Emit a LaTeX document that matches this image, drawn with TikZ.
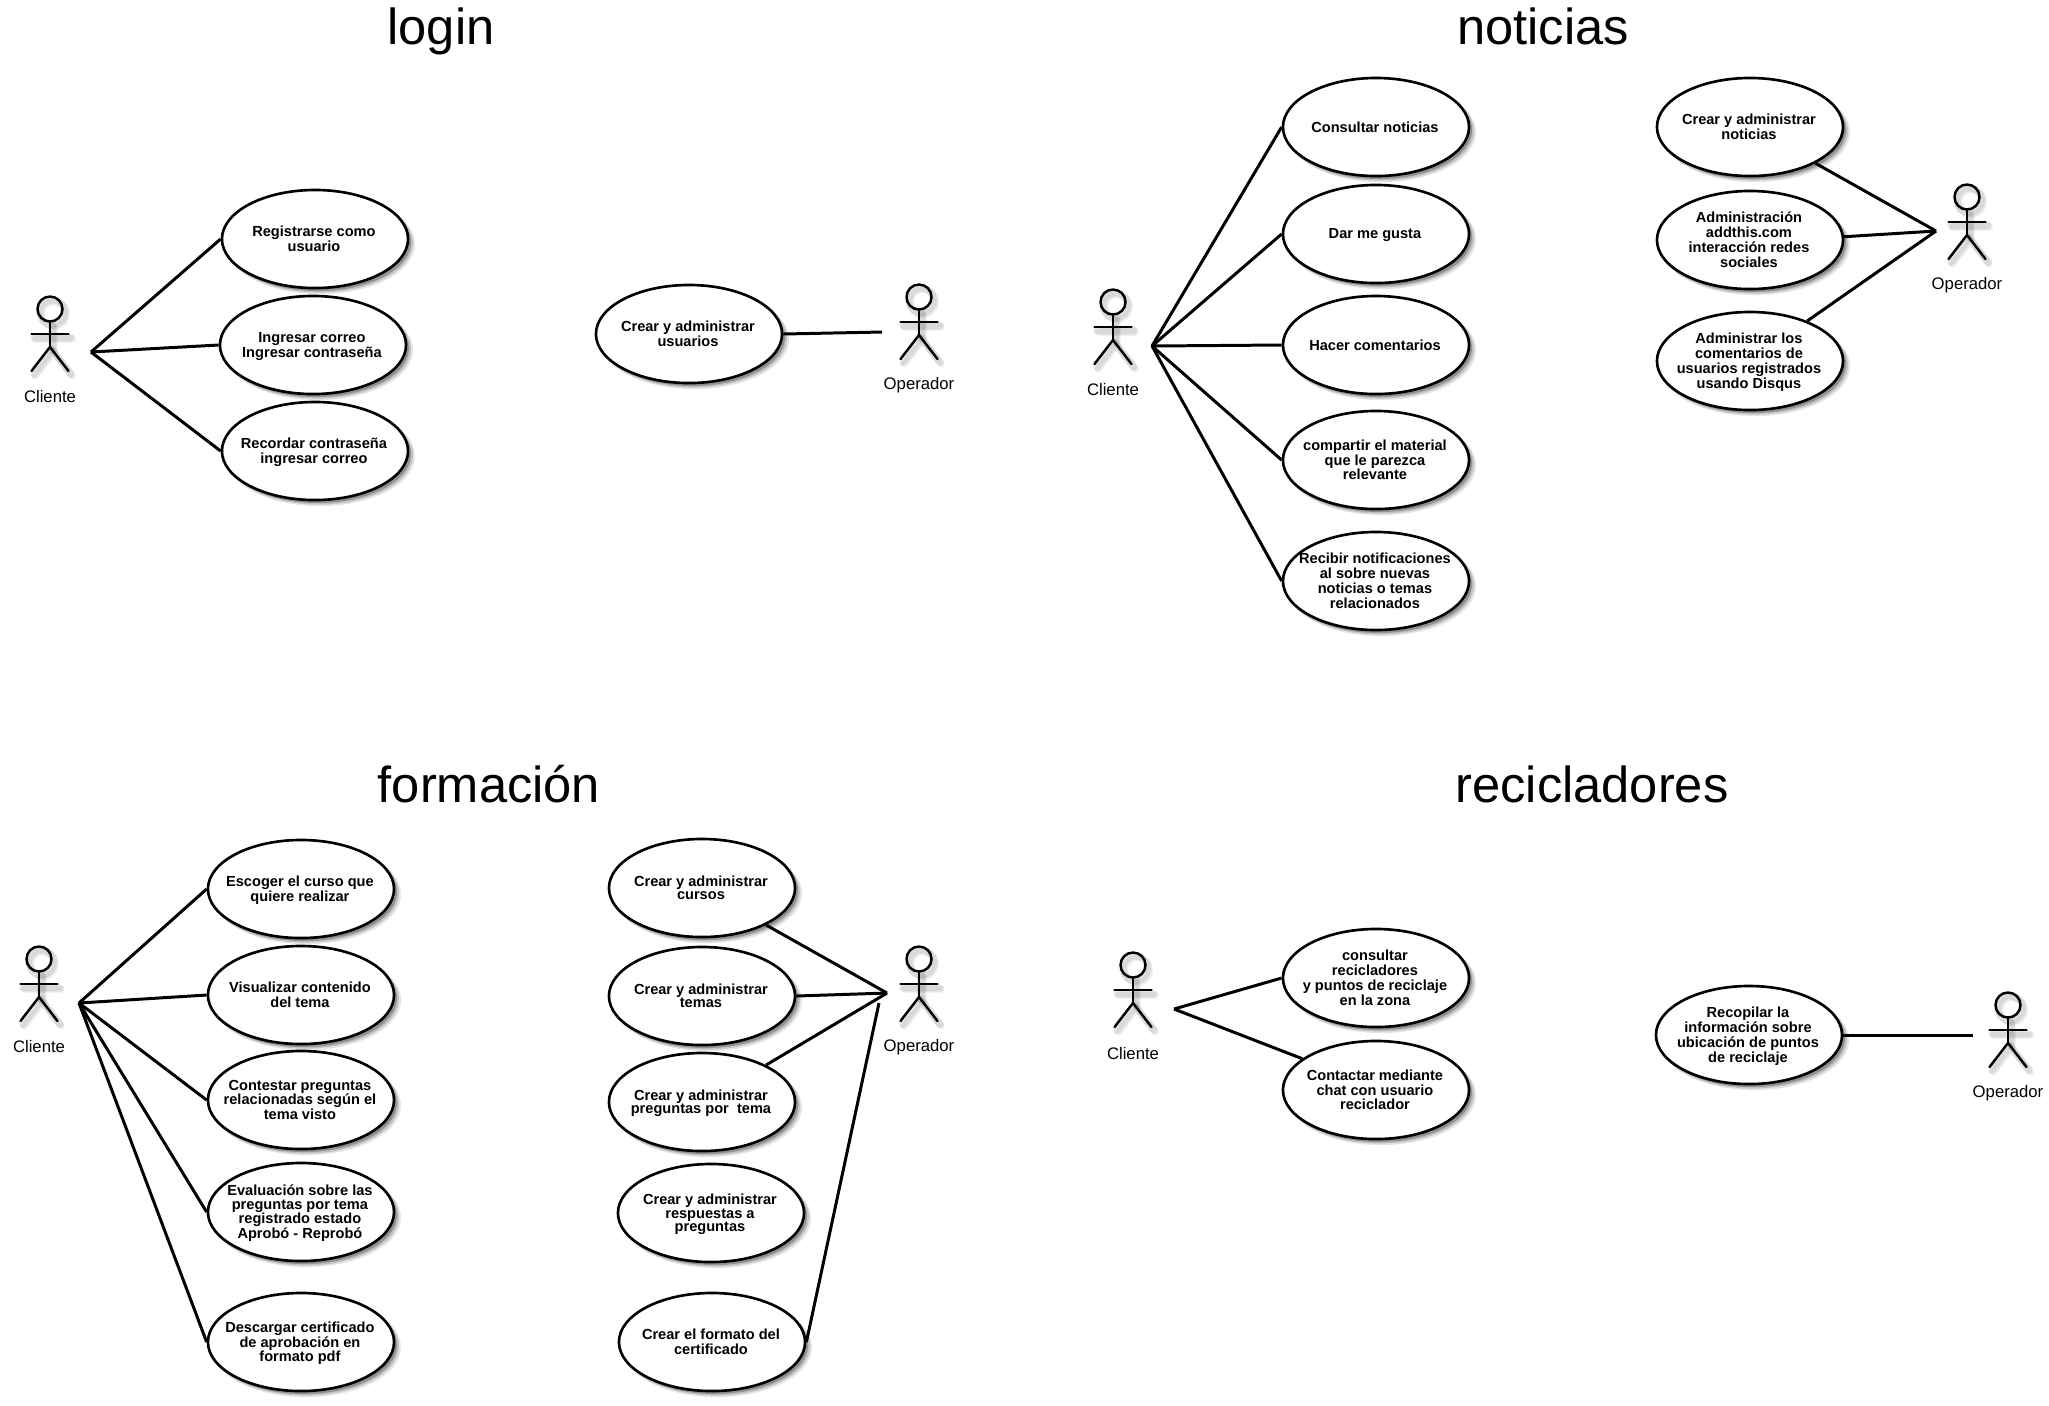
\documentclass[tikz,border=0pt]{standalone}
\usepackage{fontspec}
\usepackage{xcolor}
\setmainfont{Liberation Sans}
\usetikzlibrary{shapes.geometric,shadows}
\definecolor{fg}{HTML}{000000}
\tikzset{
  softshadow/.style={
    drop shadow={shadow xshift=.05cm,shadow yshift=-.05cm,shadow scale=1.02,opacity=.10,fill=black},
    drop shadow={shadow xshift=.04cm,shadow yshift=-.04cm,shadow scale=1.01,opacity=.15,fill=black},
    drop shadow={shadow xshift=.03cm,shadow yshift=-.03cm,opacity=.25,fill=black}},
  usecase/.style={ellipse,draw=fg,line width=0.75pt,fill=white,softshadow,xshift=.01cm,
    minimum width=1.86cm,minimum height=.98cm,inner sep=0pt,
    font=\fontsize{4.15}{3.9}\selectfont\bfseries},
  assoc/.style={draw=fg,line width=0.85pt},
  actorline/.style={draw=fg,line width=0.7pt,line cap=round},
  actorblur/.style={draw=black,opacity=.05,line width=2pt,line cap=round},
  actorname/.style={inner sep=0pt,font=\fontsize{4.75}{5.5}\selectfont},
  diagramtitle/.style={inner sep=0pt,anchor=base,font=\fontsize{14.4}{16}\selectfont}
}
\newcommand{\usecasenode}[4]{
  \node[usecase] (#1) at (#2,#3)
    {\makebox[0pt][c]{\raisebox{-1.75pt}[0pt][0pt]{\begin{tabular}[c]{@{}c@{}}#4\end{tabular}}\kern.6pt}};
}
\newcommand{\actorbody}[3]{
  \draw[#3] (#1,#2) circle (12.5);
  \draw[#3] (#1,#2+13) -- (#1,#2+38);
  \draw[#3] (#1-18.5,#2+25) -- (#1+18.5,#2+25);
  \draw[#3] (#1-18.5,#2+62) -- (#1,#2+38) -- (#1+18.5,#2+62);
}
\newcommand{\actor}[4]{
  \actorbody{#2+4}{#3+5}{actorblur}
  \actorbody{#2+3}{#3+4}{actorblur}
  \actorbody{#2+2}{#3+3}{actorblur}
  \actorbody{#2}{#3}{actorline}
  \node[actorname] (#1) at (#2,#3+88) {#4};
}
\begin{document}
\begin{tikzpicture}[x=0.01cm,y=-0.01cm]
  \fill[white] (0,0) rectangle (2049,1405);
  \useasboundingbox (0,0) rectangle (2049,1405);

  \node[diagramtitle] (titlelogin) at (441,44) {login};
  \node[diagramtitle] (titlenoticias) at (1543,44) {noticias};
  \node[diagramtitle] (titleformacion) at (489,802) {formación};
  \node[diagramtitle] (titlerecicladores) at (1592,802) {recicladores};

  % login
  \actor{loginclient}{50}{309}{Cliente}
  \actor{loginoper}{919}{297}{Operador}
  \coordinate (loginhub) at (91,352);
  \coordinate (loginoperhub) at (882,332);
  \usecasenode{registrarse}{314}{239}{Registrarse como\\usuario}
  \usecasenode{ingresar}{312}{345}{Ingresar correo\\Ingresar contraseña}
  \usecasenode{recordar}{314}{451}{Recordar contraseña\\ingresar correo}
  \usecasenode{crearusuarios}{688}{334}{Crear y administrar\\usuarios}
  \foreach \uc in {registrarse,ingresar,recordar}
    \draw[assoc] (loginhub) -- (\uc.west);
  \draw[assoc] (crearusuarios.east) -- (loginoperhub);

  % noticias
  \actor{newsclient}{1113}{302}{Cliente}
  \actor{newsoper}{1967}{197}{Operador}
  \coordinate (newshub) at (1152,346);
  \coordinate (newsoperhub) at (1936,231);
  \usecasenode{consultar}{1375}{127}{Consultar noticias}
  \usecasenode{megusta}{1375}{234}{Dar me gusta}
  \usecasenode{comentarios}{1375}{345}{Hacer comentarios}
  \usecasenode{compartir}{1375}{460}{compartir el material\\que le parezca\\relevante}
  \usecasenode{recibir}{1375}{581}{Recibir notificaciones\\al sobre nuevas\\noticias o temas\\relacionados}
  \usecasenode{crearnoticias}{1749}{127}{Crear y administrar\\noticias}
  \usecasenode{addthis}{1749}{240}{Administración\\addthis.com\\interacción redes\\sociales}
  \usecasenode{disqus}{1749}{361}{Administrar los\\comentarios de\\usuarios registrados\\usando Disqus}
  \foreach \uc in {consultar,megusta,comentarios,compartir,recibir}
    \draw[assoc] (newshub) -- (\uc.west);
  \draw[assoc] (crearnoticias.-29) -- (newsoperhub);
  \draw[assoc] (addthis.2) -- (newsoperhub);
  \draw[assoc] (disqus.35) -- (newsoperhub);

  % formacion
  \actor{courseclient}{39}{959}{Cliente}
  \actor{courseoper}{919}{959}{Operador}
  \coordinate (coursehub) at (79,1003);
  \coordinate (courseoperhub) at (887,993);
  \coordinate (certhub) at (879,1003);
  \usecasenode{escoger}{300}{889}{Escoger el curso que\\quiere realizar}
  \usecasenode{visualizar}{300}{995}{Visualizar contenido\\del tema}
  \usecasenode{contestar}{300}{1100}{Contestar preguntas\\relacionadas según el\\tema visto}
  \usecasenode{evaluacion}{300}{1212}{Evaluación sobre las\\preguntas por tema\\registrado estado\\Aprobó - Reprobó}
  \usecasenode{descargar}{300}{1342}{Descargar certificado\\de aprobación en\\formato pdf}
  \usecasenode{crearcursos}{701}{888}{Crear y administrar\\cursos}
  \usecasenode{creartemas}{701}{996}{Crear y administrar\\temas}
  \usecasenode{crearpreguntas}{701}{1102}{Crear y administrar\\preguntas por\ \ tema}
  \usecasenode{crearrespuestas}{710}{1213}{Crear y administrar\\respuestas a\\preguntas}
  \usecasenode{crearformato}{711}{1342}{Crear el formato del\\certificado}
  \foreach \uc in {escoger,visualizar,contestar,evaluacion,descargar}
    \draw[assoc] (coursehub) -- (\uc.west);
  \draw[assoc] (crearcursos.-30) -- (courseoperhub);
  \draw[assoc] (creartemas.east) -- (courseoperhub);
  \draw[assoc] (crearpreguntas.30) -- (courseoperhub);
  \draw[assoc] (crearformato.east) -- (certhub);

  % recicladores
  \actor{recyclient}{1133}{965}{Cliente}
  \actor{recyoper}{2008}{1005}{Operador}
  \coordinate (recyhub) at (1174,1009);
  \coordinate (recyoperhub) at (1973,1035);
  \usecasenode{consultarrecy}{1375}{978}{consultar\\recicladores\\y puntos de reciclaje\\en la zona}
  \usecasenode{contactar}{1375}{1090}{Contactar mediante\\chat con usuario\\reciclador}
  \usecasenode{recopilar}{1748}{1035}{Recopilar la\\información sobre\\ubicación de puntos\\de reciclaje}
  \draw[assoc] (recyhub) -- (consultarrecy.west);
  \draw[assoc] (recyhub) -- (contactar.157);
  \draw[assoc] (recopilar.east) -- (recyoperhub);
\end{tikzpicture}
\end{document}
